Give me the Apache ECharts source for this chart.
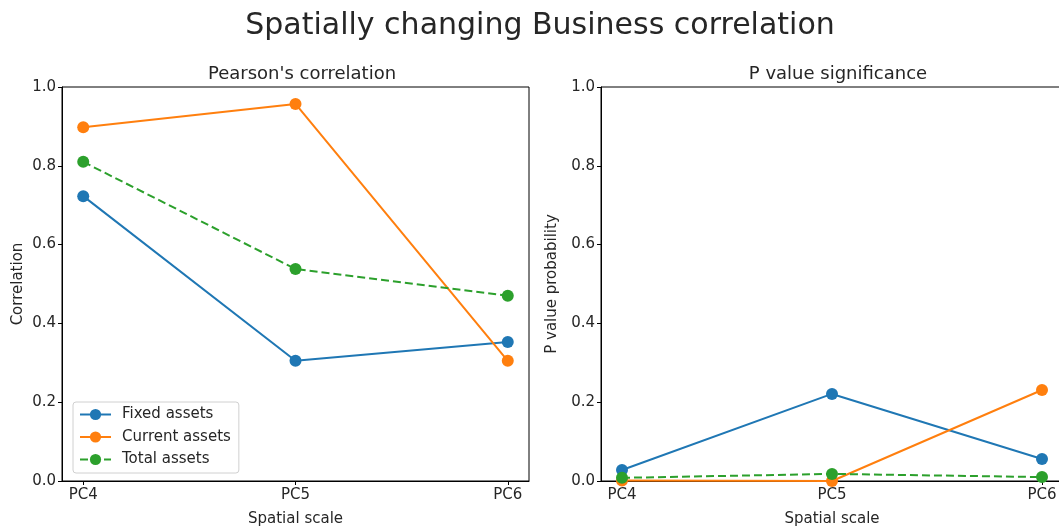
<!DOCTYPE html>
<html>
<head>
<meta charset="utf-8">
<script src="https://cdn.jsdelivr.net/npm/echarts@6/dist/echarts.min.js"></script>
<style>
  html, body { margin: 0; padding: 0; background: #fff; }
  #chart { width: 1059px; height: 528px; }
</style>
</head>
<body>
<div id="chart"></div>
<script>
// Spatial scales on the x axis
const scales = ['PC4', 'PC5', 'PC6'];
const seriesNames = ['Fixed assets', 'Current assets', 'Total assets'];

// Pearson's correlation per scale
const corrFixed   = [0.723, 0.305, 0.353];
const corrCurrent = [0.898, 0.957, 0.305];
const corrTotal   = [0.810, 0.538, 0.470];

// P value per scale
const pFixed   = [0.028, 0.221, 0.056];
const pCurrent = [0.001, 0.000, 0.231];
const pTotal   = [0.008, 0.018, 0.010];

const colors = ['#1f77b4', '#ff7f0e', '#2ca02c'];
const dashes = ['solid', 'solid', 'dashed'];
const FONT = 'DejaVu Sans';
const TEXT = '#262626';

const toPoints = arr => arr.map((v, i) => [i, v]);

function xAxis(gridIndex) {
  return {
    type: 'value', gridIndex, min: -0.1, max: 2.1,
    name: 'Spatial scale', nameLocation: 'middle', nameGap: 31,
    nameTextStyle: { fontFamily: FONT, fontSize: 15, color: TEXT },
    axisLine: { show: true, onZero: false, lineStyle: { color: '#000', width: 1 } },
    axisTick: { show: true, length: 4, customValues: [0, 1, 2], lineStyle: { color: '#000' } },
    axisLabel: {
      customValues: [0, 1, 2], margin: 7,
      formatter: v => scales[Math.round(v)],
      fontFamily: FONT, fontSize: 15, color: TEXT
    },
    splitLine: { show: false }
  };
}

function yAxis(gridIndex, name, gap) {
  return {
    type: 'value', gridIndex, min: 0, max: 1, interval: 0.2,
    name, nameLocation: 'middle', nameGap: gap,
    nameTextStyle: { fontFamily: FONT, fontSize: 15, color: TEXT },
    axisLine: { show: true, onZero: false, lineStyle: { color: '#000', width: 1 } },
    axisTick: { show: true, length: 4, lineStyle: { color: '#000' } },
    axisLabel: {
      margin: 6, formatter: v => v.toFixed(1),
      fontFamily: FONT, fontSize: 15, color: TEXT
    },
    splitLine: { show: false }
  };
}

function lineSeries(idx, data, axisIdx) {
  return {
    type: 'line', name: seriesNames[idx],
    xAxisIndex: axisIdx, yAxisIndex: axisIdx,
    data: toPoints(data),
    symbol: 'circle', symbolSize: 12,
    itemStyle: { color: colors[idx] },
    lineStyle: { color: colors[idx], width: 2, type: dashes[idx] },
    z: 3 + idx,
    animation: false
  };
}

const chart = echarts.init(document.getElementById('chart'), null, { renderer: 'canvas' });
chart.setOption({
  animation: false,
  backgroundColor: '#fff',
  title: [
    { text: 'Spatially changing Business correlation', left: 535, top: 6, textAlign: 'center',
      textStyle: { fontFamily: FONT, fontSize: 30, fontWeight: 'normal', color: TEXT } },
    { text: "Pearson's correlation", left: 297, top: 60, textAlign: 'center',
      textStyle: { fontFamily: FONT, fontSize: 18, fontWeight: 'normal', color: TEXT } },
    { text: 'P value significance', left: 833, top: 60, textAlign: 'center',
      textStyle: { fontFamily: FONT, fontSize: 18, fontWeight: 'normal', color: TEXT } }
  ],
  grid: [
    { left: 62, width: 467, top: 87, height: 394, outerBoundsMode: 'none',
      show: true, borderColor: '#000', borderWidth: 1 },
    { left: 601, width: 462, top: 87, height: 394, outerBoundsMode: 'none',
      show: true, borderColor: '#000', borderWidth: 1 }
  ],
  xAxis: [xAxis(0), xAxis(1)],
  yAxis: [yAxis(0, 'Correlation', 36), yAxis(1, 'P value probability', 41)],
  legend: {
    data: seriesNames,
    orient: 'vertical', left: 73, top: 402,
    itemWidth: 31, itemHeight: 14, itemGap: 7.5,
    padding: [5, 8, 6, 6],
    backgroundColor: '#fff', borderColor: '#d0d0d0', borderWidth: 1, borderRadius: 3,
    textStyle: { fontFamily: FONT, fontSize: 15, color: TEXT, padding: [0, 0, 0, 6] },
    selectedMode: false
  },
  series: [
    lineSeries(0, corrFixed, 0),
    lineSeries(1, corrCurrent, 0),
    lineSeries(2, corrTotal, 0),
    lineSeries(0, pFixed, 1),
    lineSeries(1, pCurrent, 1),
    lineSeries(2, pTotal, 1)
  ]
});
</script>
</body>
</html>
